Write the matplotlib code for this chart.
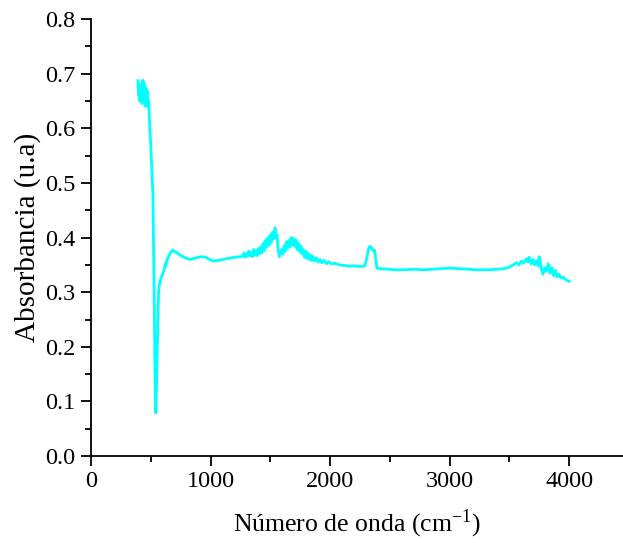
import numpy as np
import matplotlib
matplotlib.use('Agg')
import matplotlib.pyplot as plt
from matplotlib.ticker import MultipleLocator

# Espectro de absorbancia
numero_onda = [393, 398, 403, 408, 413, 418, 423, 428, 433, 438, 443, 448, 453, 458, 463, 468, 473, 478, 483, 488, 493,
               500, 510, 518, 523, 527, 532, 537, 543, 550, 555, 560, 566, 575, 590, 602, 612, 620, 628, 635, 650, 665, 683,
               720, 760, 800, 828, 880, 930, 960, 990, 1020, 1060, 1104, 1150, 1200, 1250,
               1270, 1280, 1290, 1300, 1310, 1320, 1330, 1340, 1350, 1360, 1370, 1380, 1390, 1400, 1410, 1420, 1430, 1440,
               1450, 1460, 1470, 1480, 1490, 1500, 1510, 1520, 1530, 1540, 1548, 1556, 1565, 1575, 1585, 1595, 1605, 1615,
               1625, 1635, 1645, 1655, 1665, 1675, 1685, 1695, 1705, 1715, 1725, 1735, 1745, 1755, 1765, 1775, 1785, 1795,
               1805, 1815, 1825, 1835, 1845, 1855, 1870, 1885, 1900, 1915, 1930, 1950, 1970, 1990, 2010, 2040, 2080, 2120,
               2160, 2200, 2250, 2290, 2305, 2320, 2333, 2345, 2360, 2372, 2382, 2392, 2420, 2480, 2550, 2620, 2700, 2780,
               2850, 2920, 3000, 3080, 3160, 3240, 3320, 3400, 3460, 3500, 3530, 3560, 3580, 3600, 3620, 3640, 3655, 3665,
               3680, 3695, 3710, 3725, 3740, 3750, 3765, 3780, 3795, 3810, 3825, 3840, 3855, 3870, 3885, 3900, 3915, 3930,
               3950, 3970, 3990, 4000]
absorbancia = [0.687, 0.660, 0.675, 0.650, 0.680, 0.655, 0.670, 0.645, 0.688, 0.662, 0.684, 0.650, 0.676, 0.640, 0.672,
               0.655, 0.668, 0.640, 0.650, 0.620, 0.600,
               0.570, 0.520, 0.480, 0.400, 0.330, 0.220, 0.130, 0.079, 0.150, 0.210, 0.250, 0.300, 0.318, 0.328, 0.335,
               0.340, 0.352, 0.348, 0.359, 0.365, 0.372, 0.377,
               0.372, 0.366, 0.362, 0.360, 0.363, 0.365, 0.364, 0.360, 0.357, 0.358, 0.360, 0.362, 0.364, 0.365,
               0.366, 0.372, 0.364, 0.370, 0.366, 0.375, 0.367, 0.373, 0.365, 0.378, 0.368, 0.376, 0.367, 0.380, 0.370,
               0.383, 0.372, 0.390, 0.376, 0.395, 0.382, 0.400, 0.386, 0.405, 0.392, 0.410, 0.398, 0.418, 0.400, 0.405,
               0.380, 0.365, 0.372, 0.378, 0.370, 0.385, 0.375, 0.392, 0.380, 0.395, 0.383, 0.400, 0.386, 0.398, 0.384,
               0.396, 0.378, 0.390, 0.374, 0.385, 0.370, 0.378, 0.364, 0.375, 0.362, 0.372, 0.360, 0.368, 0.358, 0.366,
               0.357, 0.363, 0.355, 0.360, 0.354, 0.358, 0.352, 0.356, 0.352, 0.353, 0.350, 0.349, 0.348, 0.348, 0.347,
               0.348, 0.360, 0.378, 0.384, 0.382, 0.376, 0.377, 0.360, 0.344, 0.343, 0.342, 0.341, 0.341, 0.342, 0.341,
               0.342, 0.343, 0.344, 0.343, 0.342, 0.341, 0.341, 0.342, 0.343, 0.346, 0.350, 0.354, 0.350, 0.357, 0.353,
               0.361, 0.355, 0.364, 0.352, 0.360, 0.350, 0.358, 0.348, 0.365, 0.345, 0.333, 0.345, 0.338, 0.352, 0.335,
               0.345, 0.330, 0.340, 0.328, 0.333, 0.326, 0.328, 0.323, 0.321, 0.320]

plt.rcParams['font.family'] = ['Liberation Serif', 'DejaVu Serif']
plt.rcParams['mathtext.fontset'] = 'stix'

fig = plt.figure(figsize=(6.23, 5.43), dpi=100)
ax = fig.add_axes([0.146, 0.160, 0.854, 0.805])

ax.plot(numero_onda, absorbancia, color='#00FFFF', lw=2.0)

ax.set_xlim(0, 4450)
ax.set_ylim(0, 0.8)
ax.xaxis.set_major_locator(MultipleLocator(1000))
ax.xaxis.set_minor_locator(MultipleLocator(500))
ax.yaxis.set_major_locator(MultipleLocator(0.1))
ax.yaxis.set_minor_locator(MultipleLocator(0.05))
ax.yaxis.set_major_formatter(matplotlib.ticker.FormatStrFormatter('%.1f'))

# estilo tipo Origin: sin ejes arriba/derecha, marcas hacia fuera
ax.spines['top'].set_visible(False)
ax.spines['right'].set_visible(False)
for s in ['left', 'bottom']:
    ax.spines[s].set_linewidth(1.3)
ax.tick_params(which='major', direction='out', length=7, width=1.3, labelsize=17.5, pad=4)
ax.tick_params(which='minor', direction='out', length=4, width=1.3)

ax.set_xlabel(r'Número de onda (cm$^{\mathregular{-1}}$)', fontsize=18.5, labelpad=11)
ax.set_ylabel('Absorbancia (u.a)', fontsize=21, labelpad=3)

plt.savefig('out.png', dpi=100)
